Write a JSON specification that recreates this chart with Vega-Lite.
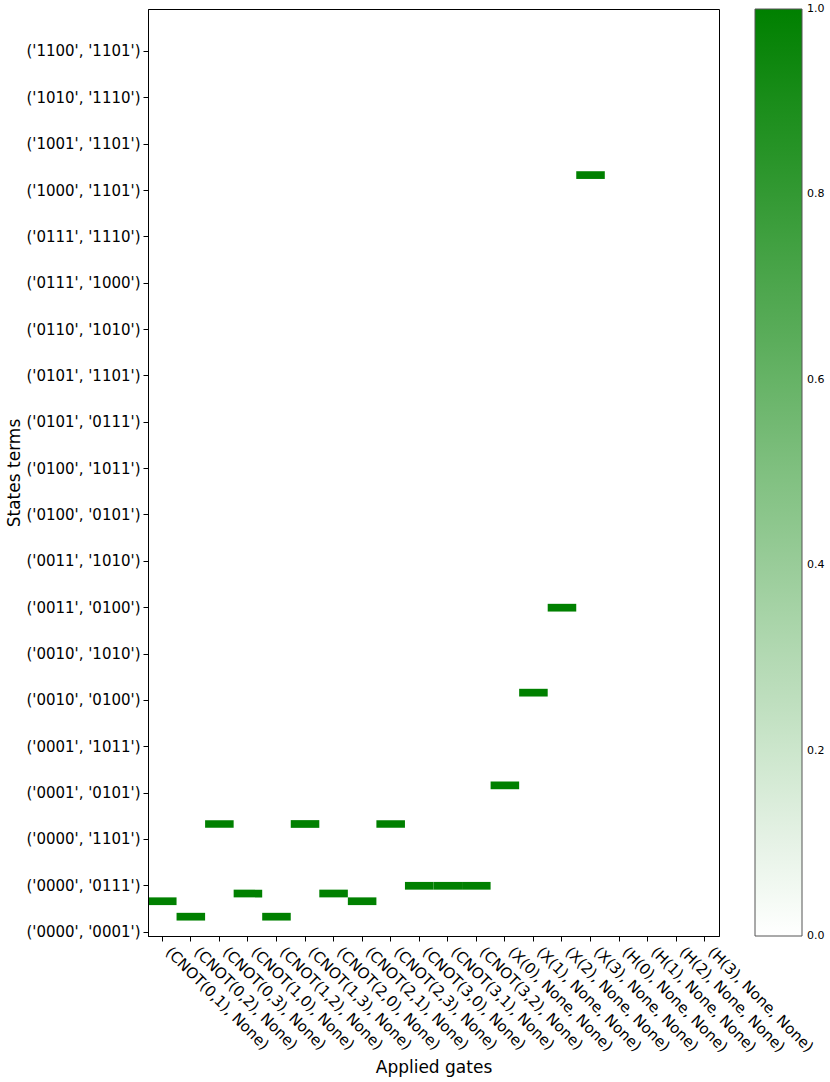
{
  "$schema": "https://vega.github.io/schema/vega-lite/v6.json",
  "width": 571,
  "height": 927,
  "autosize": {"type": "none"},
  "padding": {"left": 148, "top": 9, "right": 111, "bottom": 146},
  "background": "white",
  "config": {
    "view": {"stroke": "#000", "strokeWidth": 1},
    "font": "DejaVu Sans",
    "axis": {"domainColor": "#000", "tickColor": "#000", "tickSize": 5, "labelColor": "#000", "titleColor": "#000", "labelFont": "DejaVu Sans", "titleFont": "DejaVu Sans", "titleFontWeight": "normal", "grid": false}
  },
  "data": {
    "values": [
      {"gate": "(CNOT(0,1), None)", "term": "('0000', '0101')", "value": 1},
      {"gate": "(CNOT(0,2), None)", "term": "('0000', '0011')", "value": 1},
      {"gate": "(CNOT(0,3), None)", "term": "('0000', '1111')", "value": 1},
      {"gate": "(CNOT(1,0), None)", "term": "('0000', '0110')", "value": 1},
      {"gate": "(CNOT(1,2), None)", "term": "('0000', '0011')", "value": 1},
      {"gate": "(CNOT(1,3), None)", "term": "('0000', '1111')", "value": 1},
      {"gate": "(CNOT(2,0), None)", "term": "('0000', '0110')", "value": 1},
      {"gate": "(CNOT(2,1), None)", "term": "('0000', '0101')", "value": 1},
      {"gate": "(CNOT(2,3), None)", "term": "('0000', '1111')", "value": 1},
      {"gate": "(CNOT(3,0), None)", "term": "('0000', '0111')", "value": 1},
      {"gate": "(CNOT(3,1), None)", "term": "('0000', '0111')", "value": 1},
      {"gate": "(CNOT(3,2), None)", "term": "('0000', '0111')", "value": 1},
      {"gate": "(X(0), None, None)", "term": "('0001', '0110')", "value": 1},
      {"gate": "(X(1), None, None)", "term": "('0010', '0101')", "value": 1},
      {"gate": "(X(2), None, None)", "term": "('0011', '0100')", "value": 1},
      {"gate": "(X(3), None, None)", "term": "('1000', '1111')", "value": 1}
    ]
  },
  "mark": {"type": "rect"},
  "encoding": {
    "x": {
      "field": "gate", "type": "nominal", "sort": null,
      "scale": {"paddingInner": 0, "paddingOuter": 0, "domain": ["(CNOT(0,1), None)", "(CNOT(0,2), None)", "(CNOT(0,3), None)", "(CNOT(1,0), None)", "(CNOT(1,2), None)", "(CNOT(1,3), None)", "(CNOT(2,0), None)", "(CNOT(2,1), None)", "(CNOT(2,3), None)", "(CNOT(3,0), None)", "(CNOT(3,1), None)", "(CNOT(3,2), None)", "(X(0), None, None)", "(X(1), None, None)", "(X(2), None, None)", "(X(3), None, None)", "(H(0), None, None)", "(H(1), None, None)", "(H(2), None, None)", "(H(3), None, None)"]},
      "axis": {"title": "Applied gates", "titleFontSize": 17, "titleBaseline": "alphabetic", "titleY": 136, "labelAngle": 45, "labelAlign": "left", "labelBaseline": "top", "labelFontSize": 15, "labelPadding": 3, "labelOffset": 11, "labelOverlap": false, "labelLimit": 0}
    },
    "y": {
      "field": "term", "type": "nominal", "sort": null,
      "scale": {"paddingInner": 0, "paddingOuter": 0, "reverse": true, "domain": [
        "('0000', '0001')", "('0000', '0010')", "('0000', '0011')", "('0000', '0100')", "('0000', '0101')", "('0000', '0110')", "('0000', '0111')", "('0000', '1000')", "('0000', '1001')", "('0000', '1010')", "('0000', '1011')", "('0000', '1100')", "('0000', '1101')", "('0000', '1110')", "('0000', '1111')",
        "('0001', '0010')", "('0001', '0011')", "('0001', '0100')", "('0001', '0101')", "('0001', '0110')", "('0001', '0111')", "('0001', '1000')", "('0001', '1001')", "('0001', '1010')", "('0001', '1011')", "('0001', '1100')", "('0001', '1101')", "('0001', '1110')", "('0001', '1111')",
        "('0010', '0011')", "('0010', '0100')", "('0010', '0101')", "('0010', '0110')", "('0010', '0111')", "('0010', '1000')", "('0010', '1001')", "('0010', '1010')", "('0010', '1011')", "('0010', '1100')", "('0010', '1101')", "('0010', '1110')", "('0010', '1111')",
        "('0011', '0100')", "('0011', '0101')", "('0011', '0110')", "('0011', '0111')", "('0011', '1000')", "('0011', '1001')", "('0011', '1010')", "('0011', '1011')", "('0011', '1100')", "('0011', '1101')", "('0011', '1110')", "('0011', '1111')",
        "('0100', '0101')", "('0100', '0110')", "('0100', '0111')", "('0100', '1000')", "('0100', '1001')", "('0100', '1010')", "('0100', '1011')", "('0100', '1100')", "('0100', '1101')", "('0100', '1110')", "('0100', '1111')",
        "('0101', '0110')", "('0101', '0111')", "('0101', '1000')", "('0101', '1001')", "('0101', '1010')", "('0101', '1011')", "('0101', '1100')", "('0101', '1101')", "('0101', '1110')", "('0101', '1111')",
        "('0110', '0111')", "('0110', '1000')", "('0110', '1001')", "('0110', '1010')", "('0110', '1011')", "('0110', '1100')", "('0110', '1101')", "('0110', '1110')", "('0110', '1111')",
        "('0111', '1000')", "('0111', '1001')", "('0111', '1010')", "('0111', '1011')", "('0111', '1100')", "('0111', '1101')", "('0111', '1110')", "('0111', '1111')",
        "('1000', '1001')", "('1000', '1010')", "('1000', '1011')", "('1000', '1100')", "('1000', '1101')", "('1000', '1110')", "('1000', '1111')",
        "('1001', '1010')", "('1001', '1011')", "('1001', '1100')", "('1001', '1101')", "('1001', '1110')", "('1001', '1111')",
        "('1010', '1011')", "('1010', '1100')", "('1010', '1101')", "('1010', '1110')", "('1010', '1111')",
        "('1011', '1100')", "('1011', '1101')", "('1011', '1110')", "('1011', '1111')",
        "('1100', '1101')", "('1100', '1110')", "('1100', '1111')",
        "('1101', '1110')", "('1101', '1111')",
        "('1110', '1111')"
      ]},
      "axis": {
        "title": "States terms", "titleFontSize": 17, "titleAngle": -90, "titleBaseline": "alphabetic", "titleX": -129, "titleY": 463.5, "titleAlign": "center",
        "labelFontSize": 15, "labelPadding": 3, "labelLimit": 0, "labelOverlap": false,
        "values": ["('0000', '0001')", "('0000', '0111')", "('0000', '1101')", "('0001', '0101')", "('0001', '1011')", "('0010', '0100')", "('0010', '1010')", "('0011', '0100')", "('0011', '1010')", "('0100', '0101')", "('0100', '1011')", "('0101', '0111')", "('0101', '1101')", "('0110', '1010')", "('0111', '1000')", "('0111', '1110')", "('1000', '1101')", "('1001', '1101')", "('1010', '1110')", "('1100', '1101')"]
      }
    },
    "color": {
      "field": "value", "type": "quantitative",
      "scale": {"domain": [0, 1], "range": ["#ffffff", "#008000"], "interpolate": "rgb"},
      "legend": {"title": null, "orient": "none", "direction": "vertical", "legendX": 607, "legendY": 0, "gradientLength": 927, "gradientThickness": 47, "gradientStrokeColor": "#555", "gradientStrokeWidth": 1, "values": [0, 0.2, 0.4, 0.6, 0.8, 1], "format": ".1f", "labelFontSize": 11, "labelFont": "DejaVu Sans", "labelColor": "#000", "labelOffset": 5, "labelOverlap": false, "labelBaseline": "middle",
        "encode": {"labels": {"update": {"baseline": {"value": "middle"}}}}}
    }
  }
}
